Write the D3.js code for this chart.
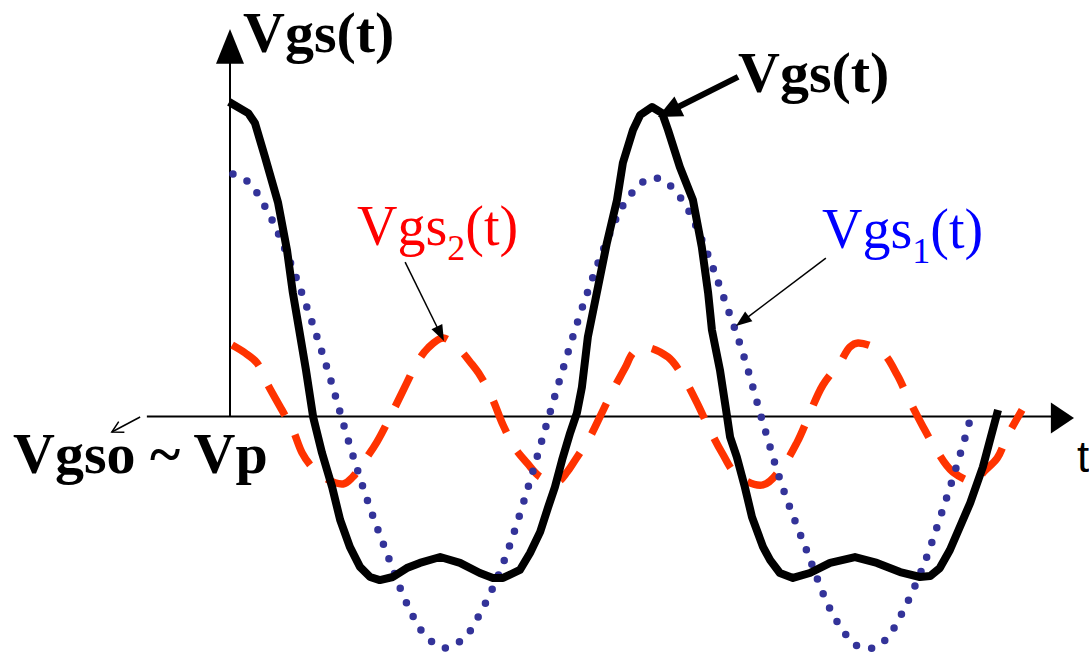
<!DOCTYPE html>
<html>
<head>
<meta charset="utf-8">
<script src="https://cdn.jsdelivr.net/npm/d3@7"></script>
<style>
  html, body { margin: 0; padding: 0; background: #ffffff; }
  svg { display: block; }
</style>
</head>
<body>
<svg id="chart" width="1089" height="653"></svg>
<script>
// Gate voltage waveforms: fundamental Vgs1, second harmonic Vgs2 and their sum Vgs.
// Time t is in periods of the fundamental, voltages relative to the fundamental amplitude.

const vgs1T = [0.007, 0.043, 0.085, 0.133, 0.187, 0.235, 0.280, 0.327, 0.367, 0.424, 0.464, 0.509,
  0.557, 0.597, 0.630, 0.659, 0.706, 0.749, 0.789, 0.836, 0.889, 0.938, 0.991, 1.026, 1.076, 1.126,
  1.166, 1.216, 1.265, 1.310, 1.365, 1.422, 1.462, 1.491, 1.524, 1.555, 1.595, 1.642, 1.680, 1.716,
  1.749, 1.758];
const vgs1V = [1.032, 0.998, 0.887, 0.700, 0.440, 0.177, -0.100, -0.364, -0.560, -0.815, -0.934, -0.985,
  -0.938, -0.823, -0.700, -0.568, -0.304, -0.040, 0.202, 0.470, 0.730, 0.917, 1.011, 1.006, 0.909, 0.717,
  0.526, 0.266, -0.040, -0.304, -0.564, -0.819, -0.934, -0.981, -0.985, -0.947, -0.828, -0.640, -0.445, -0.245,
  -0.045, 0.019];

const vgs2T = [0.005, 0.036, 0.064, 0.090, 0.123, 0.149, 0.171, 0.194, 0.220, 0.268, 0.291, 0.315,
  0.348, 0.384, 0.419, 0.443, 0.469, 0.505, 0.545, 0.569, 0.592, 0.621, 0.647, 0.675, 0.704, 0.735,
  0.775, 0.799, 0.818, 0.853, 0.882, 0.905, 0.936, 0.955, 0.979, 1.038, 1.078, 1.107, 1.137, 1.166,
  1.201, 1.263, 1.310, 1.344, 1.405, 1.445, 1.469, 1.488, 1.545, 1.581, 1.607, 1.640, 1.671, 1.713,
  1.770, 1.784, 1.818, 1.841, 1.877];
const vgs2V = [0.304, 0.270, 0.228, 0.134, 0.028, -0.057, -0.155, -0.215, -0.257, -0.287, -0.257, -0.198,
  -0.109, 0.015, 0.143, 0.228, 0.291, 0.334, 0.283, 0.232, 0.177, 0.079, -0.036, -0.134, -0.198, -0.257,
  -0.279, -0.236, -0.185, -0.087, 0.019, 0.104, 0.206, 0.270, 0.296, 0.253, 0.155, 0.057, -0.057, -0.155,
  -0.249, -0.291, -0.211, -0.109, 0.134, 0.228, 0.296, 0.313, 0.274, 0.177, 0.079, -0.036, -0.134, -0.236,
  -0.279, -0.240, -0.177, -0.087, 0.028];

const vgsT = [-0.002, 0.043, 0.059, 0.083, 0.114, 0.135, 0.149, 0.164, 0.180, 0.197, 0.218, 0.242,
  0.261, 0.284, 0.308, 0.332, 0.355, 0.386, 0.419, 0.450, 0.498, 0.545, 0.592, 0.623, 0.647, 0.687,
  0.711, 0.735, 0.754, 0.770, 0.787, 0.806, 0.822, 0.834, 0.848, 0.872, 0.893, 0.917, 0.931, 0.955,
  0.972, 1.000, 1.024, 1.038, 1.066, 1.097, 1.118, 1.133, 1.142, 1.161, 1.178, 1.185, 1.201, 1.220,
  1.237, 1.263, 1.280, 1.303, 1.334, 1.374, 1.422, 1.481, 1.533, 1.588, 1.635, 1.659, 1.682, 1.706,
  1.754, 1.784, 1.820];
const vgsV = [1.338, 1.291, 1.249, 1.104, 0.909, 0.709, 0.526, 0.368, 0.198, -0.002, -0.155, -0.300,
  -0.440, -0.555, -0.640, -0.683, -0.696, -0.683, -0.645, -0.623, -0.598, -0.623, -0.666, -0.687, -0.687, -0.653,
  -0.581, -0.491, -0.385, -0.300, -0.185, -0.070, 0.015, 0.126, 0.338, 0.551, 0.738, 0.921, 1.079, 1.219,
  1.283, 1.317, 1.291, 1.219, 1.062, 0.921, 0.721, 0.526, 0.368, 0.198, -0.002, -0.087, -0.172, -0.300,
  -0.428, -0.555, -0.611, -0.666, -0.687, -0.666, -0.623, -0.598, -0.623, -0.662, -0.683, -0.679, -0.645, -0.568,
  -0.368, -0.215, 0.028];

// Axis extents (data units)
const axisT = [-0.197, 1.95];
const axisV = [0, 1.505];

// Annotation arrows: [tailT, tailV, tipT, tipV]
const vgsArrow = [1.204, 1.445, 1.014, 1.274];
const vgs2Arrow = [0.415, 0.657, 0.507, 0.321];
const vgs1Arrow = [1.412, 0.674, 1.199, 0.385];
const vgsoArrow = [-0.213, -0.002, -0.280, -0.066];

const svg = d3.select("#chart");
const x = d3.scaleLinear().domain([0, 2]).range([230, 1074]);
const y = d3.scaleLinear().domain([-1, 1]).range([651.5, 181.5]);

const serif = "'Liberation Serif', 'Times New Roman', Times, serif";

// Axes
const g = svg.append("g");
g.append("line")
  .attr("x1", x(axisT[0])).attr("x2", x(axisT[1]))
  .attr("y1", y(0)).attr("y2", y(0))
  .attr("stroke", "#000").attr("stroke-width", 2);
g.append("line")
  .attr("x1", x(0)).attr("x2", x(0))
  .attr("y1", y(axisV[0])).attr("y2", y(axisV[1]))
  .attr("stroke", "#000").attr("stroke-width", 2);
// Arrowheads on the axes
g.append("path")
  .attr("d", `M${x(0)},${y(1.649)} L${x(0) - 14},${y(axisV[1]) + 1} L${x(0) + 14},${y(axisV[1]) + 1} Z`)
  .attr("fill", "#000");
g.append("path")
  .attr("d", `M${x(2)},${y(0) + 1.5} L${x(axisT[1]) - 2},${y(0) - 14} L${x(axisT[1]) - 2},${y(0) + 17} Z`)
  .attr("fill", "#000");

const pts = (T, V) => T.map((t, i) => [t, V[i]]);
const line = d3.line().x(d => x(d[0])).y(d => y(d[1]));

// Vgs2: second harmonic, dashed
svg.append("path")
  .datum(pts(vgs2T, vgs2V))
  .attr("d", line.curve(d3.curveCatmullRom.alpha(0.5)))
  .attr("fill", "none")
  .attr("stroke", "#ff3300")
  .attr("stroke-width", 7.5)
  .attr("stroke-dasharray", "34 22");

// Vgs1: fundamental, dotted
svg.append("path")
  .datum(pts(vgs1T, vgs1V))
  .attr("d", line.curve(d3.curveCatmullRom.alpha(0.5)))
  .attr("fill", "none")
  .attr("stroke", "#333399")
  .attr("stroke-width", 7.5)
  .attr("stroke-linecap", "round")
  .attr("stroke-dasharray", "0 15.6");

// Vgs: total gate voltage, solid
svg.append("path")
  .datum(pts(vgsT, vgsV))
  .attr("d", line.curve(d3.curveLinear))
  .attr("fill", "none")
  .attr("stroke", "#000")
  .attr("stroke-width", 8)
  .attr("stroke-linejoin", "round");

// Annotation arrows
function arrow(a, width, headLen, headWid, open) {
  const x1 = x(a[0]), y1 = y(a[1]), x2 = x(a[2]), y2 = y(a[3]);
  const ang = Math.atan2(y2 - y1, x2 - x1);
  const ux = Math.cos(ang), uy = Math.sin(ang);
  const bx = x2 - ux * headLen, by = y2 - uy * headLen;
  const px = -uy * headWid / 2, py = ux * headWid / 2;
  if (open) {
    svg.append("line").attr("x1", x1).attr("y1", y1).attr("x2", x2).attr("y2", y2)
      .attr("stroke", "#000").attr("stroke-width", width);
    svg.append("path")
      .attr("d", `M${bx + px},${by + py} L${x2},${y2} L${bx - px},${by - py}`)
      .attr("fill", "none").attr("stroke", "#000").attr("stroke-width", width);
  } else {
    svg.append("line").attr("x1", x1).attr("y1", y1).attr("x2", bx + ux * 2).attr("y2", by + uy * 2)
      .attr("stroke", "#000").attr("stroke-width", width);
    svg.append("path")
      .attr("d", `M${x2},${y2} L${bx + px},${by + py} L${bx - px},${by - py} Z`)
      .attr("fill", "#000");
  }
}
arrow(vgsArrow, 6, 24, 22, false);
arrow(vgs2Arrow, 1.5, 16, 12, false);
arrow(vgs1Arrow, 1.5, 16, 12, false);
arrow(vgsoArrow, 1.5, 11, 12, true);

// Labels
svg.append("text").attr("x", 243).attr("y", 52)
  .attr("font-family", serif).attr("font-weight", "bold").attr("font-size", 58)
  .attr("fill", "#000").text("Vgs(t)");
svg.append("text").attr("x", 738).attr("y", 92)
  .attr("font-family", serif).attr("font-weight", "bold").attr("font-size", 58)
  .attr("fill", "#000").text("Vgs(t)");
svg.append("text").attr("x", 13).attr("y", 473)
  .attr("font-family", serif).attr("font-weight", "bold").attr("font-size", 58)
  .attr("fill", "#000").text("Vgso ~ Vp");
svg.append("text").attr("x", 1077).attr("y", 472)
  .attr("font-family", "'Liberation Sans', Arial, sans-serif").attr("font-size", 44)
  .attr("fill", "#000").text("t");

function subLabel(px, py, main, sub, color) {
  const t = svg.append("text").attr("x", px).attr("y", py)
    .attr("font-family", serif).attr("font-size", 56).attr("fill", color);
  t.append("tspan").text(main);
  t.append("tspan").attr("font-size", 36).attr("dy", 15).text(sub);
  t.append("tspan").attr("dy", -15).text("(t)");
}
subLabel(357, 245, "Vgs", "2", "#ff0000");
subLabel(822, 248, "Vgs", "1", "#0000ff");
</script>
</body>
</html>
